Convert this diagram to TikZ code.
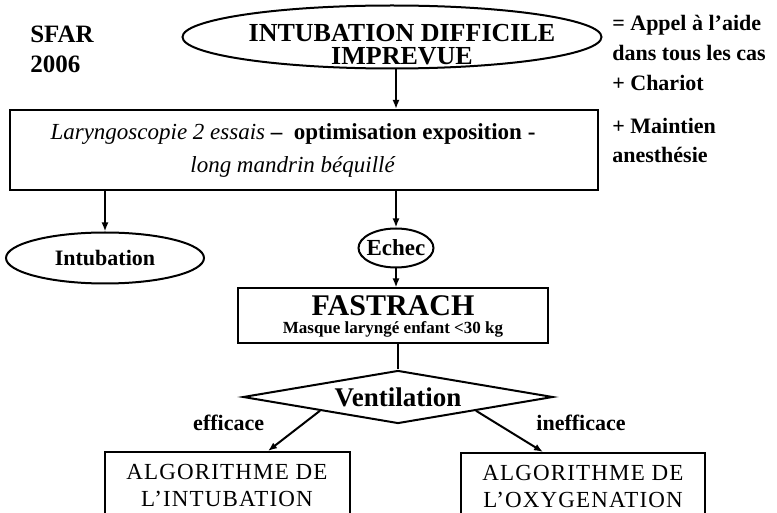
\documentclass[tikz,border=0pt]{standalone}
\usepackage{fontspec}
\setmainfont{Liberation Serif}
\newfontfamily\algofont{Liberation Serif}[LetterSpace=5]
\usetikzlibrary{positioning, shapes.geometric, arrows.meta}

\begin{document}
\begin{tikzpicture}[x=1pt, y=1pt, line width=2pt,
  >={Latex[length=9pt, width=7pt]},
  ovale/.style={draw, ellipse, inner sep=0pt, font=\bfseries},
  boite/.style={draw, rectangle, align=center},
  algo/.style={boite, minimum height=66, font=\algofont\fontsize{23}{27}\selectfont},
  etiq/.style={font=\fontsize{22}{22}\selectfont\bfseries}]
  \useasboundingbox (0,0) rectangle (777,512);
  \clip (0,0) rectangle (777,512);

  \node[align=left, font=\fontsize{25}{30}\selectfont\bfseries] (sfar) at (62,463)
  {SFAR\\2006};
  \node[ovale, inner xsep=-60pt, inner ysep=-10pt, minimum width=419, minimum height=63, align=center,
        font=\fontsize{26}{23}\selectfont\bfseries]              (start) at (392,475)
  {\rule{0pt}{32pt}\hspace*{20pt}INTUBATION DIFFICILE\\\hspace*{20pt}IMPREVUE};
  \node[anchor=north west, align=left, font=\fontsize{22}{30}\selectfont\bfseries] (aide) at (608,501)
  {= Appel à l’aide\\dans tous les cas\\+ Chariot};
  \node[anchor=north west, align=left, font=\fontsize{22}{29}\selectfont\bfseries] (anesth) at (608,398)
  {+ Maintien\\anesthésie};

  \node[boite, minimum width=588, minimum height=80,
        font=\fontsize{23}{33}\selectfont]                         (laryngo) at (304,362)
  {\textit{Laryngoscopie 2 essais} \textbf{–~ optimisation exposition -}\hspace*{22pt}\\\textit{long mandrin béquillé}\hspace*{22pt}};
  \node[ovale, minimum width=198, minimum height=51,
        font=\fontsize{22}{22}\selectfont\bfseries]              (intubation) at (105,254)
  {Intubation};
  \node[ovale, inner xsep=-6pt, minimum width=75, minimum height=39,
        font=\fontsize{23}{23}\selectfont\bfseries]              (echec) at (396,264)
  {Echec};
  \node[boite, minimum width=310, minimum height=55, inner sep=0pt,
        font=\fontsize{17}{18}\selectfont\bfseries]              (fastrach) at (393,196)
  {{\fontsize{30}{30}\selectfont FASTRACH}\\Masque laryngé enfant <30 kg};
  \node[draw, diamond, aspect=5.8, minimum width=310, minimum height=53, inner sep=0pt,
        font=\fontsize{27}{27}\selectfont\bfseries]              (ventil) at (398,115)
  {Ventilation};
  \node[algo, minimum width=245] (algointub) at (227,27)
  {ALGORITHME DE\\L’INTUBATION};
  \node[algo, minimum width=244] (algooxy) at (583,26)
  {ALGORITHME DE\\L’OXYGENATION};

  \draw[->] ([xshift=4pt]start.south) -- ([xshift=4pt]start.south |- laryngo.north);
  \draw[->] (laryngo.south -| intubation.north) -- (intubation.north);
  \draw[->] (laryngo.south -| echec.north) -- (echec.north);
  \draw[->] (echec.south) -- (echec.south |- fastrach.north);
  \draw (fastrach.south -| ventil.north) -- (ventil.north);
  \draw[->] (ventil.south west) -- node[etiq, pos=0.3, left=36pt] (eff) {efficace}
  ([xshift=41pt]algointub.north);
  \draw[->] (ventil.south east) -- node[etiq, pos=0.3, right=36pt] (ineff) {inefficace}
  ([xshift=-40pt]algooxy.north);
\end{tikzpicture}
\end{document}
